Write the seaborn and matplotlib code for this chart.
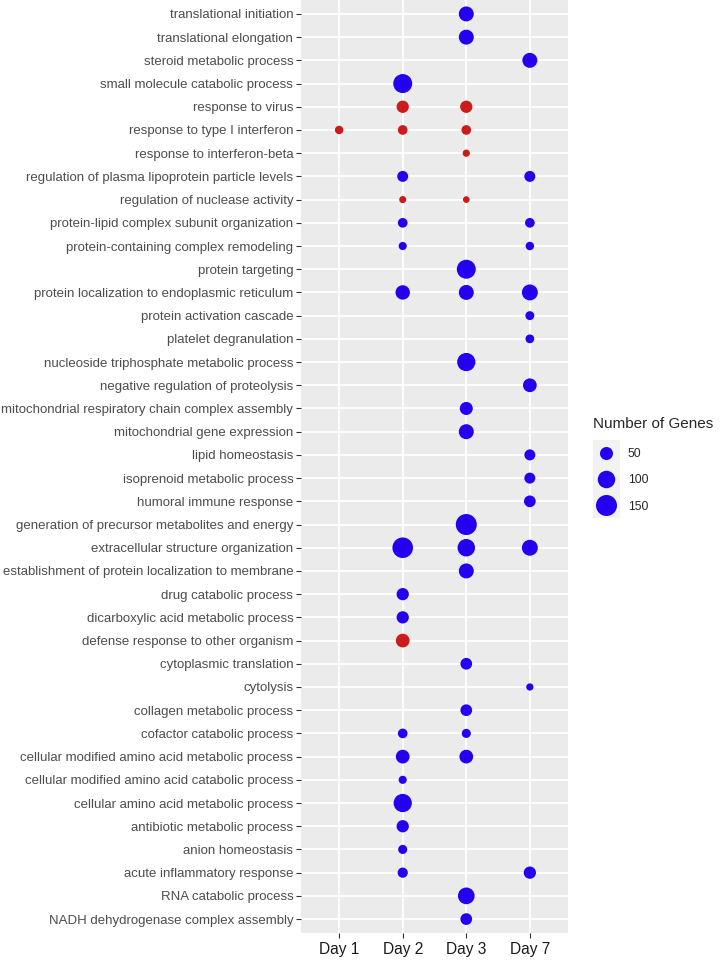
import numpy as np
import pandas as pd
import matplotlib.pyplot as plt
import seaborn as sns

nan = np.nan

terms = [
    'translational initiation', 'translational elongation', 'steroid metabolic process',
    'small molecule catabolic process', 'response to virus', 'response to type I interferon',
    'response to interferon-beta', 'regulation of plasma lipoprotein particle levels',
    'regulation of nuclease activity', 'protein-lipid complex subunit organization',
    'protein-containing complex remodeling', 'protein targeting',
    'protein localization to endoplasmic reticulum', 'protein activation cascade',
    'platelet degranulation', 'nucleoside triphosphate metabolic process',
    'negative regulation of proteolysis', 'mitochondrial respiratory chain complex assembly',
    'mitochondrial gene expression', 'lipid homeostasis', 'isoprenoid metabolic process',
    'humoral immune response', 'generation of precursor metabolites and energy',
    'extracellular structure organization', 'establishment of protein localization to membrane',
    'drug catabolic process', 'dicarboxylic acid metabolic process',
    'defense response to other organism', 'cytoplasmic translation', 'cytolysis',
    'collagen metabolic process', 'cofactor catabolic process',
    'cellular modified amino acid metabolic process', 'cellular modified amino acid catabolic process',
    'cellular amino acid metabolic process', 'antibiotic metabolic process', 'anion homeostasis',
    'acute inflammatory response', 'RNA catabolic process', 'NADH dehydrogenase complex assembly',
]

days = ['Day 1', 'Day 2', 'Day 3', 'Day 7']

# number of genes per term (nan = term not enriched that day)
day_1 = [nan, nan, nan, nan, nan, 14, nan, nan, nan, nan,
         nan, nan, nan, nan, nan, nan, nan, nan, nan, nan,
         nan, nan, nan, nan, nan, nan, nan, nan, nan, nan,
         nan, nan, nan, nan, nan, nan, nan, nan, nan, nan]
day_2 = [nan, nan, nan, 120, 43, 22, nan, 32, 6, 22,
         12, nan, 64, nan, nan, nan, nan, nan, nan, nan,
         nan, nan, nan, 143, nan, 43, 43, 57, nan, nan,
         nan, 22, 57, 12, 110, 43, 18, 26, nan, nan]
day_3 = [70, 70, nan, nan, 43, 22, 7, nan, 4, nan,
         nan, 120, 70, nan, nan, 110, nan, 50, 70, nan,
         nan, nan, 150, 100, 70, nan, nan, nan, 38, nan,
         38, 18, 57, nan, nan, nan, nan, nan, 90, 38]
day_7 = [nan, nan, 70, nan, nan, nan, nan, 32, nan, 22,
         14, nan, 81, 17, 16, nan, 57, nan, nan, 32,
         32, 38, nan, 81, nan, nan, nan, nan, nan, 7,
         nan, nan, nan, nan, nan, nan, nan, 43, nan, nan]

up_terms = ['response to virus', 'response to type I interferon', 'response to interferon-beta',
            'regulation of nuclease activity', 'defense response to other organism']

df = pd.DataFrame({'Term': terms, 'Day 1': day_1, 'Day 2': day_2, 'Day 3': day_3, 'Day 7': day_7})
df = df.melt(id_vars='Term', var_name='Day', value_name='Genes').dropna()
df['Direction'] = np.where(df['Term'].isin(up_terms), 'up', 'down')
df['Term'] = pd.Categorical(df['Term'], categories=terms)
df['Day'] = pd.Categorical(df['Day'], categories=days)

blue = '#2400F0'
red = '#CC1B1B'

sns.set_style('darkgrid', {'axes.facecolor': '#EBEBEB', 'grid.color': 'white'})
plt.rcParams['font.family'] = ['Liberation Sans', 'DejaVu Sans']

fig = plt.figure(figsize=(7.26, 9.61), dpi=100)
ax = fig.add_axes([301 / 726, 28 / 961, 267 / 726, 933 / 961])

sns.scatterplot(data=df, x='Day', y='Term', hue='Direction', size='Genes',
                palette={'down': blue, 'up': red}, sizes=(23, 229), size_norm=(4, 150),
                linewidth=0, alpha=1, ax=ax, legend='brief', zorder=3)

ax.set_xlim(-0.6, 3.6)
ax.set_ylim(39.6, -0.6)
ax.set_xlabel('')
ax.set_ylabel('')
ax.grid(color='white', linewidth=1.3)
for s in ax.spines.values():
    s.set_visible(False)
ax.tick_params(bottom=True, left=True, length=3.5, width=0.8, color='#333333')
ax.tick_params(axis='y', labelsize=9.5, labelcolor='#4D4D4D', pad=2)
ax.tick_params(axis='x', labelsize=11.2, labelcolor='#1A1A1A', pad=3)

# legend: keep only the size entries
handles, labels = ax.get_legend_handles_labels()
ax.get_legend().remove()
keep = [(h, l) for h, l in zip(handles, labels) if l in ('50', '100', '150')]
for h, l in keep:
    h.set_markerfacecolor(blue)
    h.set_markeredgecolor(blue)
    h.set_markeredgewidth(0)

fig.patches.append(plt.Rectangle((593 / 726, 1 - 518 / 961), 27 / 726, 78 / 961,
                                 transform=fig.transFigure, facecolor='#F2F2F2',
                                 edgecolor='none', zorder=0))
leg = fig.legend([h for h, l in keep], [l for h, l in keep], title='Number of Genes',
                 loc='upper left', bbox_to_anchor=(584 / 726, 1 - 408 / 961),
                 frameon=False, fontsize=8.8, title_fontsize=11, alignment='left',
                 labelspacing=1.16, handlelength=2.13, handletextpad=0.75, borderpad=0.2)
leg._legend_box.sep = 12.7  # gap between title and keys

fig.savefig('out.png', dpi=100)
